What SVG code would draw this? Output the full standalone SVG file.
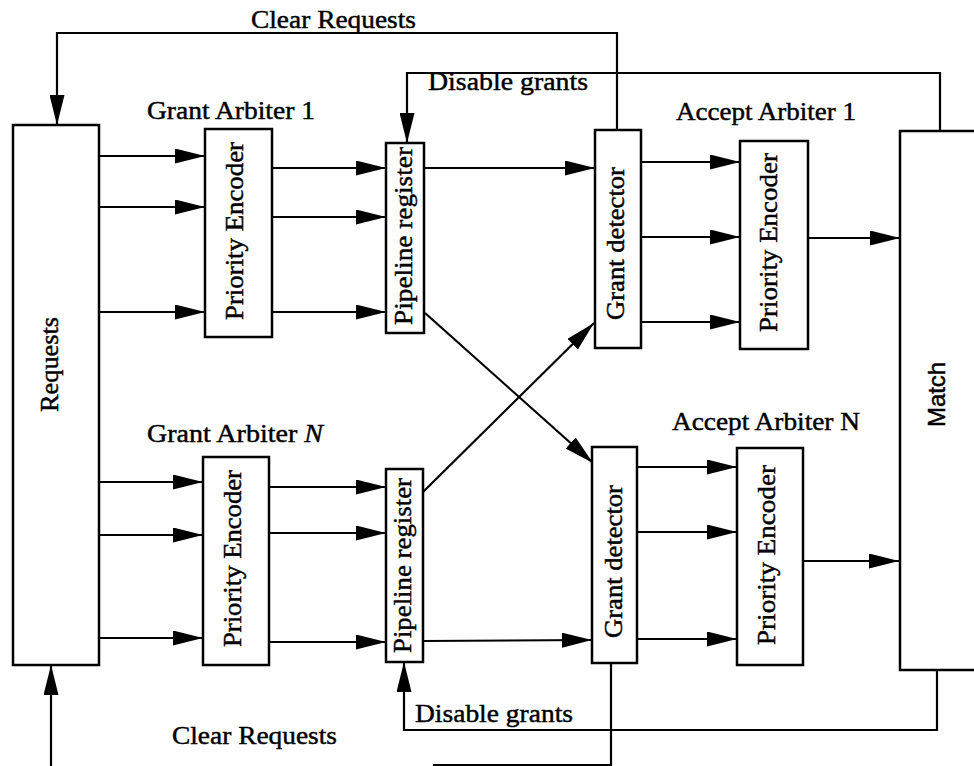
<svg xmlns="http://www.w3.org/2000/svg" width="974" height="766" viewBox="0 0 974 766">
<style>
.box{fill:#fff;stroke:#000;stroke-width:2.5}
.ln{fill:none;stroke:#000;stroke-width:2.2}
.arr{marker-end:url(#ah)}
text{font-family:"Liberation Serif","Times New Roman",serif;font-size:26px;fill:#000;stroke:#000;stroke-width:0.45}
.rt{text-anchor:middle}
.sans{font-family:"Liberation Sans",Arial,sans-serif;font-size:24px}
</style>
<defs>
<marker id="ah" markerUnits="userSpaceOnUse" markerWidth="30" markerHeight="15" refX="30" refY="7.5" orient="auto">
<path d="M0,0 L30,7.5 L0,15 z" fill="#000"/>
</marker>
</defs>
<rect width="974" height="766" fill="#fff"/>

<g id="connectors">
<line class="ln arr" x1="99" y1="156" x2="205" y2="156"/>
<line class="ln arr" x1="99" y1="207" x2="205" y2="207"/>
<line class="ln arr" x1="99" y1="312" x2="205" y2="312"/>
<line class="ln arr" x1="272" y1="168" x2="386" y2="168"/>
<line class="ln arr" x1="272" y1="217" x2="386" y2="217"/>
<line class="ln arr" x1="272" y1="312" x2="386" y2="312"/>
<line class="ln arr" x1="424" y1="168" x2="595" y2="168"/>
<line class="ln arr" x1="641" y1="162" x2="740" y2="162"/>
<line class="ln arr" x1="641" y1="237" x2="740" y2="237"/>
<line class="ln arr" x1="641" y1="322" x2="740" y2="322"/>
<line class="ln arr" x1="808" y1="238" x2="900" y2="238"/>
<line class="ln arr" x1="425" y1="313" x2="593" y2="463"/>
<line class="ln arr" x1="423" y1="492" x2="594" y2="323"/>
<line class="ln arr" x1="98" y1="482" x2="203" y2="482"/>
<line class="ln arr" x1="98" y1="535" x2="203" y2="535"/>
<line class="ln arr" x1="98" y1="638" x2="203" y2="638"/>
<line class="ln arr" x1="269" y1="487" x2="386" y2="487"/>
<line class="ln arr" x1="269" y1="533" x2="386" y2="533"/>
<line class="ln arr" x1="269" y1="642" x2="386" y2="642"/>
<line class="ln arr" x1="423" y1="641" x2="592" y2="640"/>
<line class="ln arr" x1="637" y1="467" x2="737" y2="467"/>
<line class="ln arr" x1="637" y1="532" x2="737" y2="532"/>
<line class="ln arr" x1="637" y1="639" x2="737" y2="639"/>
<line class="ln arr" x1="803" y1="561" x2="899" y2="561"/>
<polyline class="ln arr" points="617,130 617,33 57,33 57,125"/>
<polyline class="ln arr" points="940,131 940,73 407,73 407,143"/>
<polyline class="ln arr" points="937,670 937,730 404,730 404,662"/>
<polyline class="ln" points="611,663 611,765 433,765"/>
<line class="ln arr" x1="51" y1="768" x2="51" y2="665"/>
<text x="251" y="28" textLength="165" lengthAdjust="spacingAndGlyphs">Clear Requests</text>
<text x="428" y="90" textLength="160" lengthAdjust="spacingAndGlyphs">Disable grants</text>
<text x="415" y="722" textLength="158" lengthAdjust="spacingAndGlyphs">Disable grants</text>
<text x="172" y="744" textLength="165" lengthAdjust="spacingAndGlyphs">Clear Requests</text>
</g>

<g id="requests">
<rect class="box" x="13" y="125" width="86" height="540"/>
<text class="rt" transform="translate(58,364.5) rotate(-90)" textLength="95" lengthAdjust="spacingAndGlyphs">Requests</text>
</g>

<g id="grant-arbiter-1">
<text x="147" y="119" textLength="168" lengthAdjust="spacingAndGlyphs">Grant Arbiter 1</text>
<g id="ga1-priority-encoder">
<rect class="box" x="205" y="129" width="67" height="208"/>
<text class="rt" transform="translate(243,231) rotate(-90)" textLength="178" lengthAdjust="spacingAndGlyphs">Priority Encoder</text>
</g>
<g id="ga1-pipeline-register">
<rect class="box" x="386" y="143" width="38" height="190"/>
<text class="rt" transform="translate(412,236) rotate(-90)" textLength="178" lengthAdjust="spacingAndGlyphs">Pipeline register</text>
</g>
</g>

<g id="grant-arbiter-N">
<text x="147" y="442" textLength="176" lengthAdjust="spacingAndGlyphs">Grant Arbiter <tspan font-style="italic">N</tspan></text>
<g id="gaN-priority-encoder">
<rect class="box" x="203" y="457" width="66" height="208"/>
<text class="rt" transform="translate(241,558.5) rotate(-90)" textLength="177" lengthAdjust="spacingAndGlyphs">Priority Encoder</text>
</g>
<g id="gaN-pipeline-register">
<rect class="box" x="386" y="469" width="37" height="193"/>
<text class="rt" transform="translate(411,565.5) rotate(-90)" textLength="175" lengthAdjust="spacingAndGlyphs">Pipeline register</text>
</g>
</g>

<g id="accept-arbiter-1">
<text x="676" y="120" textLength="180" lengthAdjust="spacingAndGlyphs">Accept Arbiter 1</text>
<g id="aa1-grant-detector">
<rect class="box" x="595" y="130" width="46" height="218"/>
<text class="rt" transform="translate(624,243.5) rotate(-90)" textLength="153" lengthAdjust="spacingAndGlyphs">Grant detector</text>
</g>
<g id="aa1-priority-encoder">
<rect class="box" x="740" y="141" width="68" height="208"/>
<text class="rt" transform="translate(777,242.5) rotate(-90)" textLength="179" lengthAdjust="spacingAndGlyphs">Priority Encoder</text>
</g>
</g>

<g id="accept-arbiter-N">
<text x="672" y="430" textLength="188" lengthAdjust="spacingAndGlyphs">Accept Arbiter N</text>
<g id="aaN-grant-detector">
<rect class="box" x="592" y="447" width="45" height="216"/>
<text class="rt" transform="translate(622,561.5) rotate(-90)" textLength="153" lengthAdjust="spacingAndGlyphs">Grant detector</text>
</g>
<g id="aaN-priority-encoder">
<rect class="box" x="737" y="448" width="66" height="217"/>
<text class="rt" transform="translate(775,555) rotate(-90)" textLength="180" lengthAdjust="spacingAndGlyphs">Priority Encoder</text>
</g>
</g>

<g id="match">
<rect class="box" x="900" y="131" width="90" height="539"/>
<text class="rt sans" transform="translate(945,394.5) rotate(-90)" textLength="65" lengthAdjust="spacingAndGlyphs">Match</text>
</g>
</svg>
